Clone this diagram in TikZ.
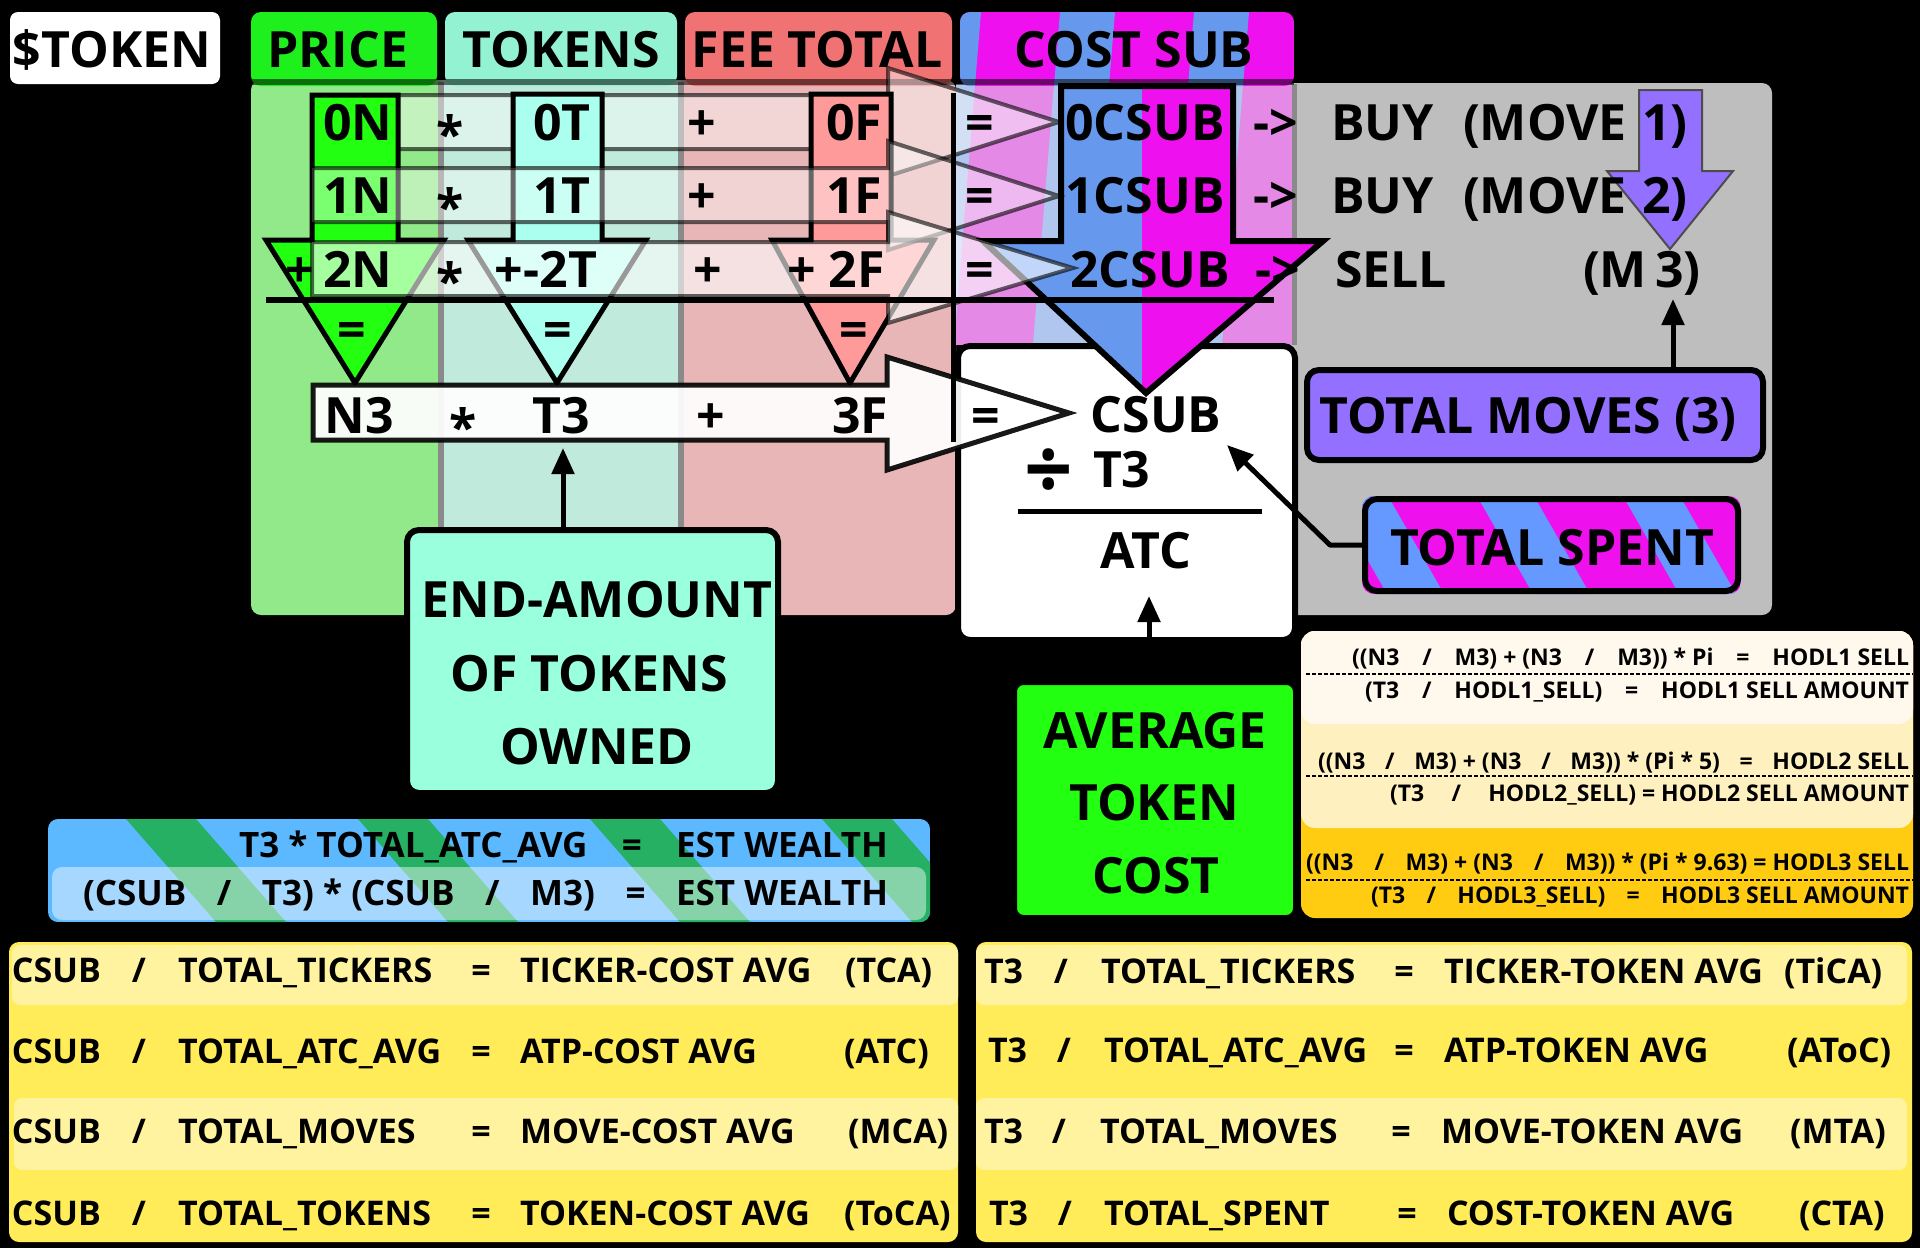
\documentclass[tikz,border=0pt]{standalone}
\usepackage{fontspec}
\setmainfont{Open Sans}
\usetikzlibrary{arrows.meta}
\definecolor{hdgreen}{HTML}{1EF01E}
\definecolor{colgreen}{HTML}{92E98A}
\definecolor{hdmint}{HTML}{92F2D2}
\definecolor{colmint}{HTML}{C0EADC}
\definecolor{hdsalmon}{HTML}{F07272}
\definecolor{colsalmon}{HTML}{E8B6B6}
\definecolor{csblue}{HTML}{6699EE}
\definecolor{csmag}{HTML}{EE10EE}
\definecolor{csblueL}{HTML}{B0C6EE}
\definecolor{csmagL}{HTML}{E48AE6}
\definecolor{panelgray}{HTML}{BEBEBE}
\definecolor{divgray}{HTML}{8A8A8A}
\definecolor{arrgreen}{HTML}{22FF11}
\definecolor{arrmint}{HTML}{AAFFEE}
\definecolor{arrsalmon}{HTML}{FF9A9A}
\definecolor{purp}{HTML}{9370FF}
\definecolor{mintbox}{HTML}{99FFDD}
\definecolor{avggreen}{HTML}{22FF11}
\definecolor{estblue}{HTML}{5DB9FF}
\definecolor{estgreen}{HTML}{25B063}
\definecolor{hodlA}{HTML}{FFF8EC}
\definecolor{hodlB}{HTML}{FFF0C0}
\definecolor{hodlC}{HTML}{FFCC11}
\definecolor{tabY}{HTML}{FFEC58}
\definecolor{tabL}{HTML}{FFF3A0}
\definecolor{tsblue}{HTML}{6699FF}
\definecolor{tsmag}{HTML}{EE11EE}
\begin{document}
\begin{tikzpicture}[x=1pt,y=-1pt,
  txt/.style={inner sep=0pt, outer sep=0pt, anchor=base, font=\bfseries\fontsize{#1}{#1}\selectfont},
  txt/.default=50,
  txl/.style={txt=#1, anchor=base west},
  txl/.default=50,
  box/.style={draw=black, line width=6pt, rounded corners=12pt, inner sep=0pt, outer sep=0pt},
  rowarr/.style={fill=white, draw=black, draw opacity=0.6, line width=4pt, line join=miter},
  downarr/.style={draw=black, line width=5pt, line join=miter},
  conn/.style={draw=black, line width=5pt, line join=round, -{Triangle[length=26pt,width=22pt]}},
]
% background
\fill[black] (0,0) rectangle (1920,1248);
% $TOKEN
\node[fill=white, rounded corners=8pt, minimum width=210, minimum height=72, inner sep=0pt] (tokbox) at (115,48) {};
\node[txt] (toktxt) at (112,67) {\$TOKEN};
% panel columns
\fill[colgreen, rounded corners=10pt] (251,80) rectangle (470,615);
\fill[colsalmon, rounded corners=10pt] (660,80) rectangle (956,615);
\fill[colmint] (441,80) rectangle (681,615);
\draw[divgray, line width=6pt] (441,82) -- (441,615);
\draw[divgray, line width=6pt] (681,82) -- (681,615);
\fill[panelgray, rounded corners=10pt] (1285,83) rectangle (1772,615);
\begin{scope}
  \clip (956,84) rectangle (1294,345);
  \fill[csmagL] (956,84) rectangle (1294,345);
  \foreach \s in {926,1060,1194,1328} {\fill[csblueL] (\s-6,84) -- ++(55,0) -- ++(-21,261) -- ++(-55,0) -- cycle;}
\end{scope}
\draw[divgray, line width=5pt] (1294,84) -- (1294,345);
% headers
\fill[hdgreen, rounded corners=10pt] (251,12) rectangle (437,86);
\fill[hdmint, rounded corners=10pt] (445,12) rectangle (677,86);
\fill[hdsalmon, rounded corners=10pt] (685,12) rectangle (952,86);
\begin{scope}
  \clip[rounded corners=10pt] (960,12) rectangle (1294,86);
  \fill[csmag] (960,12) rectangle (1294,86);
  \foreach \s in {926,1060,1194} {\fill[csblue] (\s,12) -- ++(55,0) -- ++(-6,74) -- ++(-55,0) -- cycle;}
\end{scope}
\draw[black, opacity=.55, line width=6pt] (251,82) -- (1294,82);
\node[txt] (hprice) at (338,67) {PRICE};
\node[txt] (htokens) at (561,67) {TOKENS};
\node[txt] (hfee) at (817,67) {FEE TOTAL};
\node[txt] (hcost) at (1134,67) {COST SUB};
% row 0 arrow
\filldraw[rowarr, fill opacity=0.45] (312,95) -- (888,95) -- (888,68) -- (1059,122) -- (888,176) -- (888,149) -- (312,149) -- cycle;
% down arrows
\filldraw[downarr, fill=arrgreen] (312,95) -- (398,95) -- (398,240) -- (444,240) -- (355,383) -- (266,240) -- (312,240) -- cycle;
\filldraw[downarr, fill=arrmint] (513,94) -- (602,94) -- (602,240) -- (646,240) -- (557,383) -- (468,240) -- (513,240) -- cycle;
\filldraw[downarr, fill=arrsalmon] (811,94) -- (891,94) -- (891,240) -- (934,240) -- (850,383) -- (772,240) -- (811,240) -- cycle;
% ATC white box
\node[box, fill=white, minimum width=337, minimum height=294] (atcbox) at (1126.5,493) {};
% CSUB arrow
\fill[csblue] (1061,86) -- (1233,86) -- (1233,241) -- (1323,241) -- (1146,393) -- (983,241) -- (1061,241) -- cycle;
\begin{scope}
  \clip (1061,86) -- (1233,86) -- (1233,241) -- (1323,241) -- (1146,393) -- (983,241) -- (1061,241) -- cycle;
  \fill[csmag] (1142,80) rectangle (1330,400);
\end{scope}
\draw[downarr, line width=6pt] (1061,86) -- (1233,86) -- (1233,241) -- (1323,241) -- (1146,393) -- (983,241) -- (1061,241) -- cycle;
% row 1, 2 arrows
\filldraw[rowarr, fill opacity=0.4] (312,168) -- (888,168) -- (888,141) -- (1059,196) -- (888,250) -- (888,222) -- (312,222) -- cycle;
\filldraw[rowarr, fill opacity=0.6] (312,242) -- (888,242) -- (888,212) -- (1073,268) -- (888,323) -- (888,296) -- (312,296) -- cycle;
\draw[line width=6pt] (266,300) -- (1274,300);
% row 3 arrow
\filldraw[fill=white, fill opacity=.93, draw=black, draw opacity=.9, line width=5pt, line join=miter] (313,385) -- (887,385) -- (887,357) -- (1069,413) -- (887,470) -- (887,440) -- (313,440) -- cycle;
\draw[line width=5pt] (953,93) -- (953,442);
% purple arrow
\filldraw[fill=purp, draw=black!70, line width=2pt] (1639,90) -- (1702,90) -- (1702,171) -- (1733,171) -- (1670,249) -- (1607,171) -- (1639,171) -- cycle;
% row 0 texts
\node[txt] (r0n) at (358,140) {0N};
\node[txt] (r0s) at (450,152) {*};
\node[txt] (r0t) at (562,140) {0T};
\node[txt] (r0p) at (702,140) {+};
\node[txt] (r0f) at (854,140) {0F};
\node[txt] (r0e) at (980,140) {=};
\node[txt] (r0c) at (1145,140) {0CSUB};
\node[txt] (r0a) at (1276,140) {->};
\node[txl] (r0b) at (1331,140) {BUY};
\node[txl] (r0m) at (1463,140) {(MOVE};
\node[txl] (r0k) at (1642,140) {1)};
% row 1 texts
\node[txt] (r1n) at (358,213) {1N};
\node[txt] (r1s) at (450,225) {*};
\node[txt] (r1t) at (562,213) {1T};
\node[txt] (r1p) at (702,213) {+};
\node[txt] (r1f) at (854,213) {1F};
\node[txt] (r1e) at (980,213) {=};
\node[txt] (r1c) at (1145,213) {1CSUB};
\node[txt] (r1a) at (1276,213) {->};
\node[txl] (r1b) at (1331,213) {BUY};
\node[txl] (r1m) at (1463,213) {(MOVE};
\node[txl] (r1k) at (1642,213) {2)};
% row 2 texts
\node[txt] (r2q) at (300,287) {+};
\node[txt] (r2n) at (358,287) {2N};
\node[txt] (r2s) at (450,299) {*};
\node[txt] (r2t) at (546,287) {+-2T};
\node[txt] (r2p) at (708,287) {+};
\node[txt] (r2f) at (836,287) {+ 2F};
\node[txt] (r2e) at (980,287) {=};
\node[txt] (r2c) at (1150,287) {2CSUB};
\node[txt] (r2a) at (1278,287) {->};
\node[txl] (r2b) at (1335,287) {SELL};
\node[txl] (r2m) at (1583,287) {(M};
\node[txl] (r2k) at (1655,287) {3)};
% arrow equals
\node[txt] (eqg) at (352,347) {=};
\node[txt] (eqm) at (558,347) {=};
\node[txt] (eqs) at (854,347) {=};
% row 3 texts
\node[txt] (r3n) at (359,433) {N3};
\node[txt] (r3s) at (463,445) {*};
\node[txt] (r3t) at (561,433) {T3};
\node[txt] (r3p) at (711,433) {+};
\node[txt] (r3f) at (860,433) {3F};
\node[txt] (r3e) at (986,433) {=};
\node[txt] (r3c) at (1156,432) {CSUB};
% ATC box content
\node[txt=85] (divsym) at (1049,499) {÷};
\node[txl] (divt3) at (1093,487) {T3};
\draw[line width=5pt] (1018,511) -- (1262,511);
\node[txt] (atctxt) at (1146,568) {ATC};
% TOTAL MOVES
\node[box, fill=purp, minimum width=456, minimum height=90] (tmoves) at (1535,415) {};
\node[txt] (tmovestxt) at (1528,433) {TOTAL MOVES (3)};
\coordinate (m3tip) at (1673,299);
\draw[conn] (tmoves.north -| m3tip) -- (m3tip);
% TOTAL SPENT
\begin{scope}
  \clip[rounded corners=12pt] (1362,496) rectangle (1741,594);
  \fill[tsmag] (1362,496) rectangle (1741,594);
  \foreach \s in {1185,1331,1477,1623,1769} {\fill[tsblue] (\s,496) -- ++(57,0) -- ++(56,98) -- ++(-57,0) -- cycle;}
\end{scope}
\node[box, minimum width=373, minimum height=92] (tspent) at (1551.5,545) {};
\node[txt] (tspenttxt) at (1552,565) {TOTAL SPENT};
\coordinate (csubtip) at (1227,445);
\draw[conn] (tspent.west) -- ++(-35,0) -- (csubtip);
% END-AMOUNT
\node[box, fill=mintbox, minimum width=371, minimum height=263] (endamt) at (592.5,661.5) {};
\node[txt] (endamt1) at (597,617) {END-AMOUNT};
\node[txt] (endamt2) at (589,691) {OF TOKENS};
\node[txt] (endamt3) at (597,764) {OWNED};
\coordinate (t3tip) at (563,448);
\draw[conn] (endamt.north -| t3tip) -- (t3tip);
% AVERAGE TOKEN COST
\node[box, line width=3pt, rounded corners=8pt, fill=avggreen, minimum width=279, minimum height=233] (avgbox) at (1155,800) {};
\node[txt] (avg1) at (1155,748) {AVERAGE};
\node[txt] (avg2) at (1154,820) {TOKEN};
\node[txt] (avg3) at (1156,893) {COST};
\coordinate (atctip) at (1149,596);
\draw[conn] (avgbox.north -| atctip) -- (atctip);
% EST WEALTH
\begin{scope}
  \clip[rounded corners=10pt] (48,819) rectangle (930,922);
  \fill[estblue] (48,819) rectangle (930,922);
  \foreach \s in {-106,126,358,590,822} {\fill[estgreen] (\s,819) -- ++(70,0) -- ++(90,103) -- ++(-70,0) -- cycle;}
  \fill[white, opacity=.45, rounded corners=10pt] (52,867) rectangle (926,920);
\end{scope}
\node[txl=35] (est1) at (239,857) {\makebox[649pt][s]{T3 * TOTAL\_ATC\_AVG\hfill=\hfill EST WEALTH}};
\node[txl=35] (est2) at (83,905) {\makebox[805pt][s]{(CSUB\hfill/\hfill T3) * (CSUB\hfill/\hfill M3)\hfill=\hfill EST WEALTH}};
% HODL
\fill[hodlC, rounded corners=14pt] (1301,631) rectangle (1913,918);
\fill[hodlB, rounded corners=14pt] (1301,631) rectangle (1913,828);
\fill[hodlA, rounded corners=14pt] (1301,631) rectangle (1913,724);
\draw[line width=2pt, dash pattern=on 4pt off 2pt] (1306,674) -- (1913,674);
\draw[line width=2pt, dash pattern=on 4pt off 2pt] (1306,776) -- (1913,776);
\draw[line width=2pt, dash pattern=on 4pt off 2pt] (1306,880) -- (1913,880);
\node[txl=23] (h1) at (1352,665) {\makebox[557pt][s]{((N3\hfill/\hfill M3) + (N3\hfill/\hfill M3)) * Pi\hfill=\hfill HODL1 SELL}};
\node[txl=23] (h2) at (1365,698) {\makebox[544pt][s]{(T3\hfill/\hfill HODL1\_SELL)\hfill=\hfill HODL1 SELL AMOUNT}};
\node[txl=23] (h3) at (1318,769) {\makebox[591pt][s]{((N3\hfill/\hfill M3) + (N3\hfill/\hfill M3)) * (Pi * 5)\hfill=\hfill HODL2 SELL}};
\node[txl=23] (h4) at (1390,801) {\makebox[519pt][s]{(T3\hfill/\hfill HODL2\_SELL) = HODL2 SELL AMOUNT}};
\node[txl=23] (h5) at (1306,870) {\makebox[603pt][s]{((N3\hfill/\hfill M3) + (N3\hfill/\hfill M3)) * (Pi * 9.63) = HODL3 SELL}};
\node[txl=23] (h6) at (1371,903) {\makebox[538pt][s]{(T3\hfill/\hfill HODL3\_SELL)\hfill=\hfill HODL3 SELL AMOUNT}};
% left table
\fill[tabY, rounded corners=10pt] (9,942) rectangle (958,1242);
\fill[tabL, rounded corners=8pt] (12,945) rectangle (958,1005);
\fill[tabL, rounded corners=8pt] (14,1098) rectangle (958,1170);
\node[txl=34] (la1) at (12,982) {CSUB};
\node[txt=34] (lb1) at (139,982) {/};
\node[txl=34] (lc1) at (178,982) {TOTAL\_TICKERS};
\node[txt=34] (ld1) at (481,982) {=};
\node[txl=34] (le1) at (520,982) {TICKER-COST AVG};
\node[txl=34] (lf1) at (845,982) {(TCA)};
\node[txl=34] (la2) at (12,1063) {CSUB};
\node[txt=34] (lb2) at (139,1063) {/};
\node[txl=34] (lc2) at (178,1063) {TOTAL\_ATC\_AVG};
\node[txt=34] (ld2) at (481,1063) {=};
\node[txl=34] (le2) at (520,1063) {ATP-COST AVG};
\node[txl=34] (lf2) at (844,1063) {(ATC)};
\node[txl=34] (la3) at (12,1143) {CSUB};
\node[txt=34] (lb3) at (139,1143) {/};
\node[txl=34] (lc3) at (178,1143) {TOTAL\_MOVES};
\node[txt=34] (ld3) at (481,1143) {=};
\node[txl=34] (le3) at (520,1143) {MOVE-COST AVG};
\node[txl=34] (lf3) at (848,1143) {(MCA)};
\node[txl=34] (la4) at (12,1225) {CSUB};
\node[txt=34] (lb4) at (139,1225) {/};
\node[txl=34] (lc4) at (178,1225) {TOTAL\_TOKENS};
\node[txt=34] (ld4) at (481,1225) {=};
\node[txl=34] (le4) at (520,1225) {TOKEN-COST AVG};
\node[txl=34] (lf4) at (844,1225) {(ToCA)};
% right table
\fill[tabY, rounded corners=10pt] (976,942) rectangle (1912,1242);
\fill[tabL, rounded corners=8pt] (976,945) rectangle (1907,1005);
\fill[tabL, rounded corners=8pt] (976,1098) rectangle (1907,1170);
\node[txl=34] (ra1) at (984,983) {T3};
\node[txt=34] (rb1) at (1061,983) {/};
\node[txl=34] (rc1) at (1101,983) {TOTAL\_TICKERS};
\node[txt=34] (rd1) at (1404,983) {=};
\node[txl=34] (re1) at (1444,983) {TICKER-TOKEN AVG};
\node[txl=34] (rf1) at (1784,983) {(TiCA)};
\node[txl=34] (ra2) at (988,1062) {T3};
\node[txt=34] (rb2) at (1064,1062) {/};
\node[txl=34] (rc2) at (1104,1062) {TOTAL\_ATC\_AVG};
\node[txt=34] (rd2) at (1404,1062) {=};
\node[txl=34] (re2) at (1444,1062) {ATP-TOKEN AVG};
\node[txl=34] (rf2) at (1787,1062) {(AToC)};
\node[txl=34] (ra3) at (984,1143) {T3};
\node[txt=34] (rb3) at (1059,1143) {/};
\node[txl=34] (rc3) at (1100,1143) {TOTAL\_MOVES};
\node[txt=34] (rd3) at (1401,1143) {=};
\node[txl=34] (re3) at (1441,1143) {MOVE-TOKEN AVG};
\node[txl=34] (rf3) at (1790,1143) {(MTA)};
\node[txl=34] (ra4) at (989,1225) {T3};
\node[txt=34] (rb4) at (1065,1225) {/};
\node[txl=34] (rc4) at (1104,1225) {TOTAL\_SPENT};
\node[txt=34] (rd4) at (1407,1225) {=};
\node[txl=34] (re4) at (1447,1225) {COST-TOKEN AVG};
\node[txl=34] (rf4) at (1799,1225) {(CTA)};
\end{tikzpicture}
\end{document}
